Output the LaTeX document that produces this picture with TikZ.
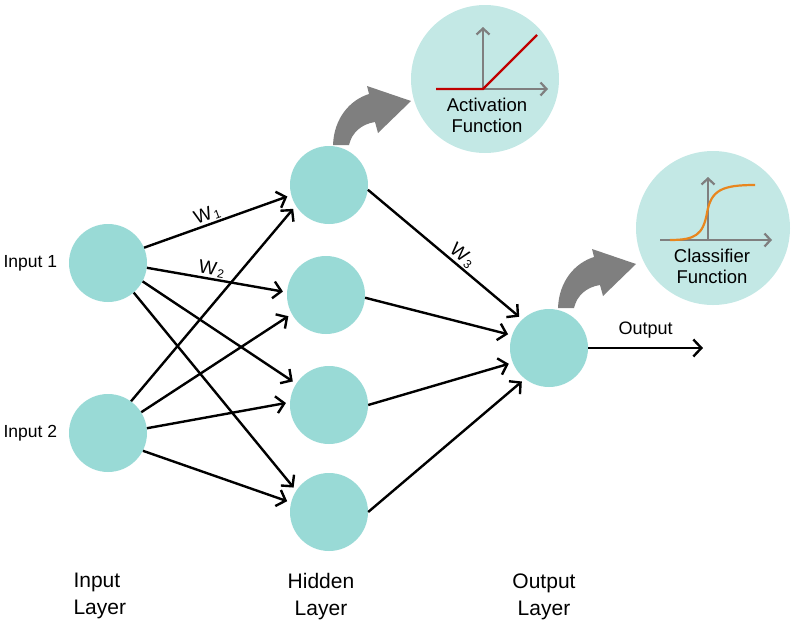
\documentclass[tikz,border=0pt]{standalone}
\usepackage{fontspec}
\setmainfont{Liberation Sans}
\usetikzlibrary{arrows.meta}
\definecolor{neuron}{HTML}{99DAD6}
\definecolor{bubble}{HTML}{C3E8E5}
\definecolor{garrow}{HTML}{7F7F7F}
\definecolor{relu}{HTML}{C00000}
\definecolor{sigm}{HTML}{E8861E}
\newcommand{\wsub}[1]{W\kern1.5pt\raisebox{-2pt}{\fontsize{12}{12}\selectfont #1}}
\begin{document}
\begin{tikzpicture}[x=1pt,y=-1pt,
  neuronnode/.style={circle,fill=neuron,minimum size=78pt,inner sep=0pt},
  bubblenode/.style={circle,fill=bubble,inner sep=0pt},
  edge/.style={line width=2.4pt,-{Straight Barb[length=8pt,width=17pt,line width=2.4pt]},shorten >=4pt},
  axisline/.style={garrow,line width=2.2pt,-{Straight Barb[length=6pt,width=13pt,line width=2.2pt]}},
  lbl/.style={font=\fontsize{17.5}{20}\selectfont},
  wlbl/.style={font=\fontsize{19}{20}\selectfont,sloped,above,inner sep=1pt},
  layerlbl/.style={font=\fontsize{21}{27}\selectfont,align=left},
  bubtext/.style={font=\fontsize{18.5}{21}\selectfont,align=center}]
\useasboundingbox (0,0) rectangle (796,630);

% bubbles
\node[bubblenode,minimum size=148pt] (act) at (485,79) {};
\node[bubblenode,minimum size=154pt] (cls) at (713,228) {};

% neurons
\node[neuronnode] (i1) at (108,263) {};
\node[neuronnode] (i2) at (108,433) {};
\node[neuronnode] (h1) at (329,185) {};
\node[neuronnode] (h2) at (326,295) {};
\node[neuronnode] (h3) at (329,405) {};
\node[neuronnode] (h4) at (329,512) {};
\node[neuronnode] (o)  at (549,348) {};
\coordinate (oend) at (703,348);

% labels
\node[lbl,anchor=west] (li1) at (0,263) {Input 1};
\node[lbl,anchor=west] (li2) at (0,433) {Input 2};
\node[layerlbl,anchor=north west] (lin) at (70,570) {Input\\Layer};
\node[layerlbl,anchor=north,align=center] (lhid) at (321,570) {Hidden\\Layer};
\node[layerlbl,anchor=north,align=center] (lout) at (544,570) {Output\\Layer};

% input -> hidden
\draw[edge] (i1.23) -- node[wlbl,pos=0.45] (w1) {\wsub{1}} (h1.195);
\draw[edge] (i1.-7) -- node[wlbl,pos=0.45] (w2) {\wsub{2}} (h2.176);
\draw[edge] (i1.-28) -- (h3.147);
\draw[edge] (i1.-49) -- (h4.147);
\draw[edge] (i2.54) -- (h1.212);
\draw[edge] (i2.32) -- (h2.209);
\draw[edge] (i2.7) -- (h3.176);
\draw[edge] (i2.-27) -- (h4.166);

% hidden -> output
\draw[edge] (h1.-7) -- node[wlbl,pos=0.57] (w3) {\wsub{3}} (o.133);
\draw[edge] (h2.-4) -- (o.161);
\draw[edge] (h3.0) -- (o.202);
\draw[edge] (h4.0) -- (o.232);
\draw[edge,shorten >=0pt] (o.east) -- node[above=5pt,font=\fontsize{18}{18}\selectfont] (outl) {Output} (oend);

% curved gray arrows
\fill[garrow] (333,145) .. controls (334,118) and (350,100) .. (369,94) -- (367,86) -- (411,101) -- (378,133) -- (375,122) .. controls (362,124) and (352,132) .. (349,145) -- cycle;
\begin{scope}[shift={(225,163)}]
\fill[garrow] (333,145) .. controls (334,118) and (350,100) .. (369,94) -- (367,86) -- (411,101) -- (378,133) -- (375,122) .. controls (362,124) and (352,132) .. (349,145) -- cycle;
\end{scope}

% activation function plot
\coordinate (ao) at (483,89);
\draw[axisline] (436,89) -- (548,89);
\draw[axisline] (ao) -- (483,27);
\draw[relu,line width=2.2pt] (436,89) -- (ao) -- (537,35);
\node[bubtext,anchor=north] (actt) at (487,95) {Activation\\Function};

% classifier function plot
\coordinate (co) at (708,240);
\draw[axisline] (660,240) -- (772,240);
\draw[axisline] (co) -- (708,177);
\draw[sigm,line width=2.2pt] (670,240) .. controls (695,240) and (703,235) .. (707,213) .. controls (711,190) and (722,185) .. (755,185);
\node[bubtext,anchor=north] (clst) at (712,246) {Classifier\\Function};
\end{tikzpicture}
\end{document}
